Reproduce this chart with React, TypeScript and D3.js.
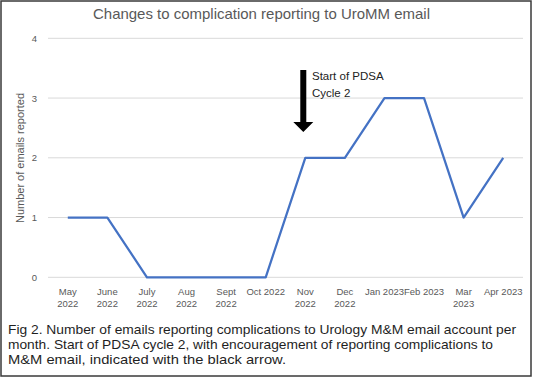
import React from "react";
import * as d3 from "d3";

const months = ["May 2022", "June 2022", "July 2022", "Aug 2022", "Sept 2022", "Oct 2022", "Nov 2022", "Dec 2022", "Jan 2023", "Feb 2023", "Mar 2023", "Apr 2023"];
const monthLabels: string[][] = [["May", "2022"], ["June", "2022"], ["July", "2022"], ["Aug", "2022"], ["Sept", "2022"], ["Oct 2022"], ["Nov", "2022"], ["Dec", "2022"], ["Jan 2023"], ["Feb 2023"], ["Mar", "2023"], ["Apr 2023"]];
const emails = [1, 1, 0, 0, 0, 0, 2, 2, 3, 3, 1, 2];
const yTicks = [0, 1, 2, 3, 4];
const arrowMonth = "Nov 2022";
const title = "Changes to complication reporting to UroMM email";
const yTitle = "Number of emails reported";
const annotation = ["Start of PDSA", "Cycle 2"];
const caption = [
  "Fig 2. Number of emails reporting complications to Urology M&M email account per",
  "month. Start of PDSA cycle 2, with encouragement of reporting complications to",
  "M&M email, indicated with the black arrow.",
];
const captionWidths = [508, 485, 278];

const W = 535;
const H = 378;
const font = "'Liberation Sans', Arial, sans-serif";

export default function App() {
  const x = d3.scalePoint<string>().domain(months).range([48, 523]).padding(0.5);
  const y = d3.scaleLinear().domain([0, 4]).range([277.3, 38.3]);
  const line = d3
    .line<number>()
    .x((_, i) => x(months[i]) as number)
    .y((d) => y(d));

  const ax = (x(arrowMonth) as number) - 2;

  return (
    <svg width={W} height={H} style={{ position: "absolute", left: 0, top: 0 }} fontFamily={font}>
      <rect x={0} y={0} width={W} height={H} fill="#fff" />
      <rect x={1} y={1} width={530} height={375} fill="none" stroke="#3a3a3a" strokeWidth={1.5} />
      <text x={261.5} y={19} textAnchor="middle" fontSize={14.5} fill="#595959" textLength={337} lengthAdjust="spacingAndGlyphs">{title}</text>
      {yTicks.map((t) => (
        <g key={t}>
          <line x1={48} x2={523} y1={y(t)} y2={y(t)} stroke="#d9d9d9" strokeWidth={1} />
          <text x={37} y={y(t) + 3.5} textAnchor="end" fontSize={9.5} fill="#595959">{t}</text>
        </g>
      ))}
      <text transform="translate(24,158) rotate(-90)" textAnchor="middle" fontSize={10} fill="#595959" textLength={130} lengthAdjust="spacingAndGlyphs">{yTitle}</text>
      {monthLabels.map((lines, i) => (
        <text key={i} x={x(months[i]) as number} y={295} textAnchor="middle" fontSize={9.5} fill="#595959">
          {lines.map((l, j) => (
            <tspan key={j} x={x(months[i]) as number} dy={j === 0 ? 0 : 12}>{l}</tspan>
          ))}
        </text>
      ))}
      <path d={line(emails) || ""} fill="none" stroke="#4472C4" strokeWidth={2.25} strokeLinejoin="round" />
      <path
        d={`M${ax - 3},70 L${ax + 3},70 L${ax + 3},122 L${ax + 10},122 L${ax},132 L${ax - 10},122 L${ax - 3},122 Z`}
        fill="#000"
      />
      {annotation.map((a, i) => (
        <text key={i} x={312} y={80 + i * 17} fontSize={11.5} fill="#222">{a}</text>
      ))}
      {caption.map((c, i) => (
        <text key={i} x={8} y={334 + i * 15} fontSize={13} fill="#1f1f1f" textLength={captionWidths[i]} lengthAdjust="spacingAndGlyphs">{c}</text>
      ))}
    </svg>
  );
}
